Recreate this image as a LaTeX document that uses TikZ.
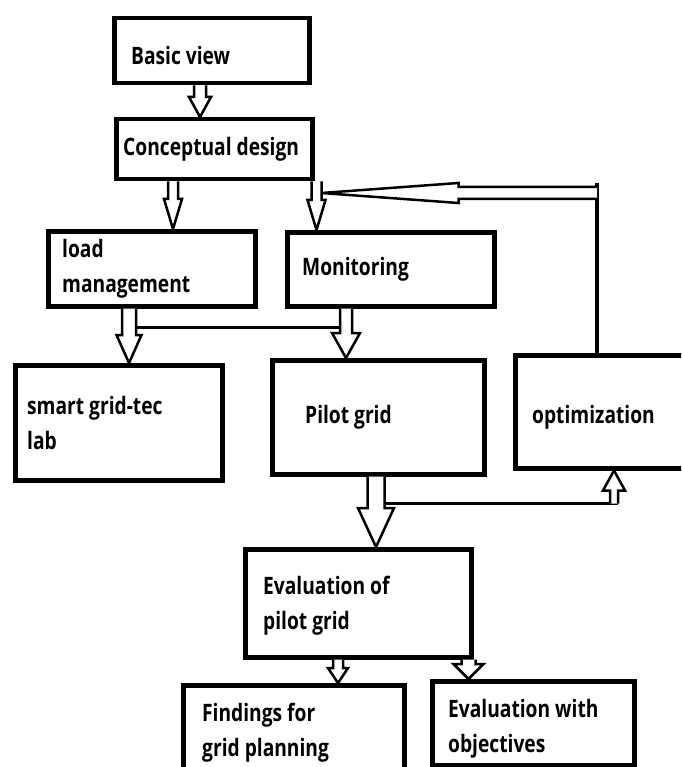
\documentclass[tikz,border=0pt]{standalone}
\usepackage{fontspec}
\newfontfamily\boxfont[FakeStretch=0.8]{Open Sans}
\usetikzlibrary{calc}

% hollow block arrow: start, tip, shaft half width, head half width, head length
\newcommand{\blockarrow}[5]{%
  \coordinate (hb) at ($(#2)!#5pt!(#1)$);
  \filldraw[hollow] ($(#1)!#3pt!90:(#2)$) -- ($(hb)!#3pt!90:(#2)$) -- ($(hb)!#4pt!90:(#2)$) -- (#2)
    -- ($(hb)!#4pt!-90:(#2)$) -- ($(hb)!#3pt!-90:(#2)$) -- ($(#1)!#3pt!-90:(#2)$);
}

\begin{document}
\begin{tikzpicture}[x=1pt, y=-1pt, line join=miter]
	\tikzset{
		box/.style={draw, line width=4.5pt, anchor=north west, inner sep=0pt},
		txt/.style={anchor=west, align=left, inner sep=0pt, font=\boxfont\bfseries\fontsize{24}{35}\selectfont},
		hollow/.style={line width=2.5pt, fill=white},
		link/.style={line width=3.5pt}
	}
	\useasboundingbox (0,0) rectangle (681,767);
	\clip (0,0) rectangle (681,767);
	% boxes
	\node[box, minimum width=195, minimum height=65, label={[txt, xshift=19, yshift=-5]west:Basic view}] (basic) at (112,16) {};
	\node[box, minimum width=196, minimum height=60, label={[txt, xshift=9]west:Conceptual design}] (concept) at (114,117) {};
	\node[box, minimum width=207, minimum height=75, label={[txt, xshift=16]west:{load\\management}}] (load) at (46,229) {};
	\node[box, minimum width=207, minimum height=74, label={[txt, xshift=17]west:Monitoring}] (monitor) at (285,230) {};
	\node[box, minimum width=207, minimum height=115, label={[txt, xshift=14]west:{smart grid-tec\\lab}}] (smart) at (13,363) {};
	\node[box, minimum width=212, minimum height=114, label={[txt, xshift=35]west:Pilot grid}] (pilot) at (270,358) {};
	\node[box, minimum width=190, minimum height=113, label={[txt, xshift=19, yshift=-6]west:optimization}] (optim) at (513,353) {};
	\node[box, minimum width=226, minimum height=108, label={[txt, xshift=20, yshift=-2]west:{Evaluation of\\pilot grid}}] (evalpilot) at (243,547) {};
	\node[box, minimum width=221, minimum height=110, label={[txt, xshift=21, yshift=8]west:{Findings for\\grid planning}}] (findings) at (181,683) {};
	\node[box, minimum width=202, minimum height=84, label={[txt, xshift=18, yshift=-6]west:{Evaluation with\\objectives}}] (evalobj) at (430,679) {};

	% arrows
	\coordinate (s1) at ($(basic.south west)+(88,0)$);
	\coordinate (e1) at (s1 |- concept.north);
	\blockarrow{s1}{e1}{6}{11}{20}
	\coordinate (s2) at ($(concept.south west)+(59,0)$);
	\coordinate (e2) at (s2 |- load.north);
	\blockarrow{s2}{e2}{5}{9}{30}
	\coordinate (s3) at ($(concept.south east)+(2,0)$);
	\coordinate (e3) at (s3 |- monitor.north);
	\blockarrow{s3}{e3}{5}{9}{30}
	\coordinate (s4) at ($(load.south west)+(83,0)$);
	\coordinate (e4) at (s4 |- smart.north);
	\blockarrow{s4}{e4}{7}{12.5}{28}
	\coordinate (s5) at ($(monitor.south west)+(61,0)$);
	\coordinate (e5) at (s5 |- pilot.north);
	\blockarrow{s5}{e5}{6}{14}{25}
	\coordinate (s6) at ($(pilot.south west)+(106,0)$);
	\coordinate (e6) at (s6 |- evalpilot.north);
	\blockarrow{s6}{e6}{8.5}{18}{39}
	\coordinate (s7) at ($(evalpilot.south west)+(95,0)$);
	\coordinate (e7) at (s7 |- findings.north);
	\blockarrow{s7}{e7}{5}{10}{15}
	\coordinate (s8) at ($(evalpilot.south east)+(-5,0)$);
	\coordinate (e8) at (s8 |- evalobj.north);
	\blockarrow{s8}{e8}{7}{15}{15}

	% joins
	\coordinate (j1) at ($(s4)+(7,19)$);
	\coordinate (j2) at ($(j1 -| s5)+(-6,0)$);
	\draw[link] (j1) -- (j2);
	\coordinate (j3) at ($(s6)+(8.5,27)$);
	\coordinate (s9) at ($(j3)+(229.5,0)$);
	\coordinate (e9) at (s9 |- optim.south);
	\draw[link] (j3) -- ($(s9)+(4,0)$);
	\blockarrow{s9}{e9}{4}{11}{20}

	% feedback
	\coordinate (f1) at ($(optim.north west)+(84,0)$);
	\coordinate (f2) at ($(f1)+(0,-170)$);
	\draw[link] (f1) -- (f2);
	\coordinate (s10) at ($(f1)+(0,-160)$);
	\coordinate (e10) at ($(s10 -| s3)+(5,0)$);
	\blockarrow{s10}{e10}{6}{10}{137}
\end{tikzpicture}
\end{document}
